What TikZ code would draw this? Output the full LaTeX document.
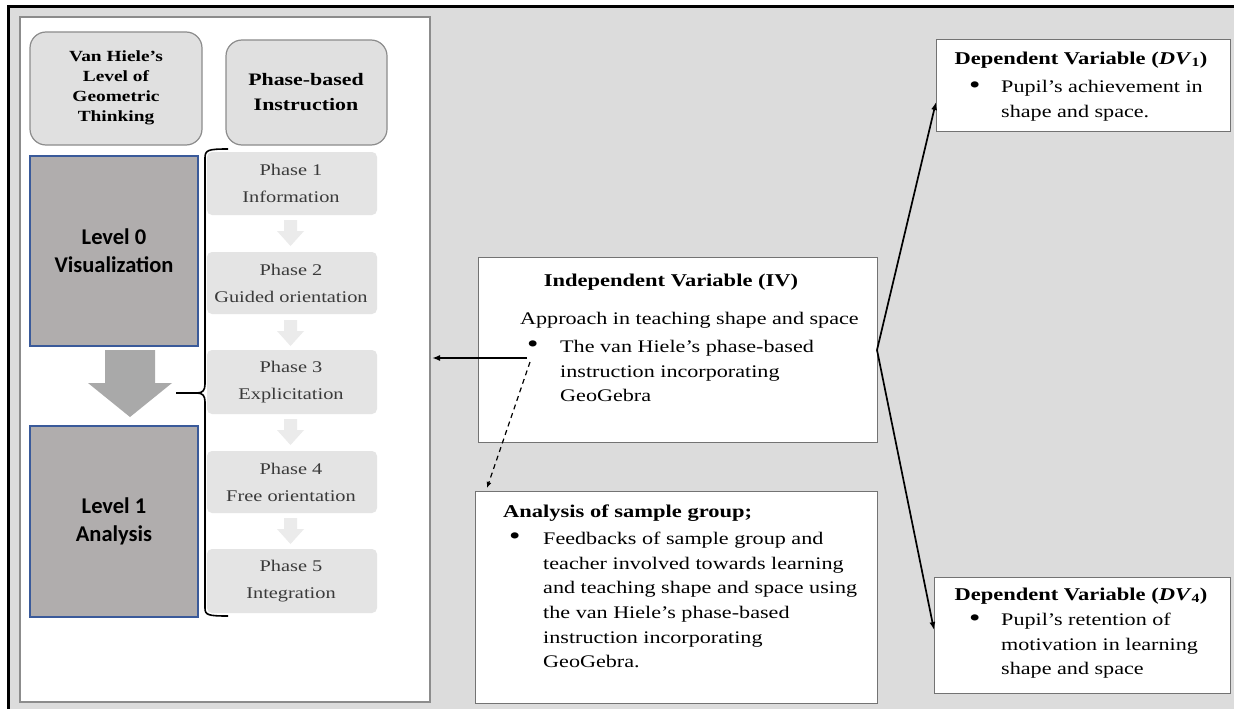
\documentclass[tikz,border=0pt]{standalone}
\usepackage{fontspec}
\setmainfont{Liberation Serif}[FakeStretch=1.25]
\newfontfamily\calfont{Carlito}
\usetikzlibrary{arrows.meta}
\definecolor{bggray}{HTML}{DCDCDC}
\definecolor{hdrgray}{HTML}{E0E0E0}
\definecolor{phgray}{HTML}{E4E4E4}
\definecolor{lvgray}{HTML}{B0ADAD}
\definecolor{lvblue}{HTML}{3A5A9A}
\definecolor{bigarrow}{HTML}{A9A9A9}
\definecolor{smallarrow}{HTML}{EBEBEB}
\definecolor{phtext}{HTML}{3A3A3A}
\newcommand{\bul}{{\fontsize{26}{20}\selectfont\textbullet}}
\tikzset{
  hdr/.style={draw=black!45, fill=hdrgray, rounded corners=16pt, line width=1.2pt},
  phasebox/.style={fill=phgray, rounded corners=5pt},
  levelbox/.style={draw=lvblue, fill=lvgray, line width=2pt},
  varbox/.style={draw=black!55, fill=white, line width=1.2pt},
  txt/.style={inner sep=0pt, font=\fontsize{17.7}{24.6}\selectfont},
  ttl/.style={inner sep=0pt, font=\bfseries\fontsize{18}{22}\selectfont},
  link/.style={line width=1.7pt, -{Latex[length=8pt,width=6pt]}},
}
\begin{document}
\begin{tikzpicture}[x=1pt,y=-1pt]
\useasboundingbox (0,0) rectangle (1234,709);
\fill[white] (0,0) rectangle (1234,709);
\fill[bggray] (8,7) rectangle (1234,709);
\draw[line width=3pt] (8,709) -- (8,7) -- (1234,7);
% inner white panel
\draw[draw=black!45, fill=white, line width=1.2pt] (20,17) rectangle (430,702);
% headers
\draw[hdr] (30,32) rectangle (202,145);
\node[font=\bfseries\fontsize{15.5}{20}\selectfont, align=center] (hvh) at (116,88) {Van Hiele's\\Level of\\Geometric\\Thinking};
\draw[hdr] (226,40) rectangle (387,145);
\node[font=\bfseries\fontsize{17.5}{25}\selectfont, align=center] (hpb) at (306,92) {Phase-based\\Instruction};
% level boxes
\node[levelbox, minimum width=168pt, minimum height=190pt, anchor=north west, font=\calfont\bfseries\fontsize{22.5}{28}\selectfont, align=center] (lv0) at (29,155) {Level 0\\Visualization};
\node[levelbox, minimum width=168pt, minimum height=191pt, anchor=north west, font=\calfont\bfseries\fontsize{22.5}{28}\selectfont, align=center] (lv1) at (29,425) {Level 1\\Analysis};
% big arrow
\fill[bigarrow] (105,350) -- (155,350) -- (155,383) -- (172,383) -- (130,417) -- (88,383) -- (105,383) -- cycle;
% phases
\foreach \i/\t/\b/\l in {1/152/215/Information, 2/252/314/Guided orientation, 3/350/414/Explicitation, 4/451/513/Free orientation, 5/549/613/Integration}{
  \fill[phasebox] (207,\t) rectangle (377,\b);
  \node[font=\fontsize{16.3}{27}\selectfont, align=center, text=phtext] (ph\i) at (291,{(\t+\b)/2}) {Phase \i\\\l};
}
% small arrows
\foreach \a in {216,316,415,514}{
  \fill[smallarrow] (284,\a+4) -- (297,\a+4) -- (297,\a+15) -- (304,\a+15) -- (290.5,\a+30) -- (277,\a+15) -- (284,\a+15) -- cycle;
}
% brace
\coordinate (btip) at (176,393);
\draw[line width=1.6pt] (228,149) .. controls (208,149) and (205,150) .. (205,158) -- (205,384) .. controls (205,390) and (203,393) .. (197,393) -- (btip);
\draw[line width=1.6pt] (197,393) .. controls (203,393) and (205,396) .. (205,402) -- (205,608) .. controls (205,615) and (208,616) .. (228,616);
% IV box
\node[varbox, minimum width=399pt, minimum height=185pt, anchor=north west] (iv) at (478,257) {};
\node[ttl] (ivt) at (671,282) {Independent Variable (IV)};
\node[txt, anchor=west] (iva) at (520,320) {Approach in teaching shape and space};
\node[txt, anchor=west] (ivb) at (527,347) {\bul};
\node[txt, anchor=west, align=left] (ivc) at (560,371) {The van Hiele's phase-based\\instruction incorporating\\GeoGebra};
\coordinate (ivout) at (877,350);
% analysis box
\node[varbox, minimum width=402pt, minimum height=212pt, anchor=north west] (an) at (475,491) {};
\node[ttl, anchor=west] (ant) at (503,513) {Analysis of sample group;};
\node[txt, anchor=west] (anb) at (509,539) {\bul};
\node[txt, anchor=west, align=left] (anc) at (543,600) {Feedbacks of sample group and\\teacher involved towards learning\\and teaching shape and space using\\the van Hiele's phase-based\\instruction incorporating\\GeoGebra.};
% DV1
\node[varbox, minimum width=294pt, minimum height=92pt, anchor=north west] (dv1) at (936,39) {};
\node[ttl] (dv1t) at (1081,60) {Dependent Variable (\textit{DV}\textsubscript{1})};
\node[txt, anchor=west] (dv1b) at (969,88) {\bul};
\node[txt, anchor=west, align=left] (dv1c) at (1001,100.5) {Pupil's achievement in\\shape and space.};
% DV4
\node[varbox, minimum width=296pt, minimum height=116pt, anchor=north west] (dv4) at (934,577) {};
\node[ttl] (dv4t) at (1081,596) {Dependent Variable (\textit{DV}\textsubscript{4})};
\node[txt, anchor=west] (dv4b) at (969,621) {\bul};
\node[txt, anchor=west, align=left] (dv4c) at (1001,646) {Pupil's retention of\\motivation in learning\\shape and space};
% connectors
\coordinate (ivl) at (527,358);
\coordinate (panel) at (432,358);
\draw[link] (ivl) -- (panel);
\coordinate (dsh) at (530,362);
\draw[line width=1.2pt, dash pattern=on 5pt off 4pt, -{Latex[length=6pt,width=5pt]}] (dsh) -- (487,488);
\draw[link] (ivout) -- (dv1.west |- 0,102);
\draw[link] (ivout) -- (dv4.west |- 0,630);
\end{tikzpicture}
\end{document}
